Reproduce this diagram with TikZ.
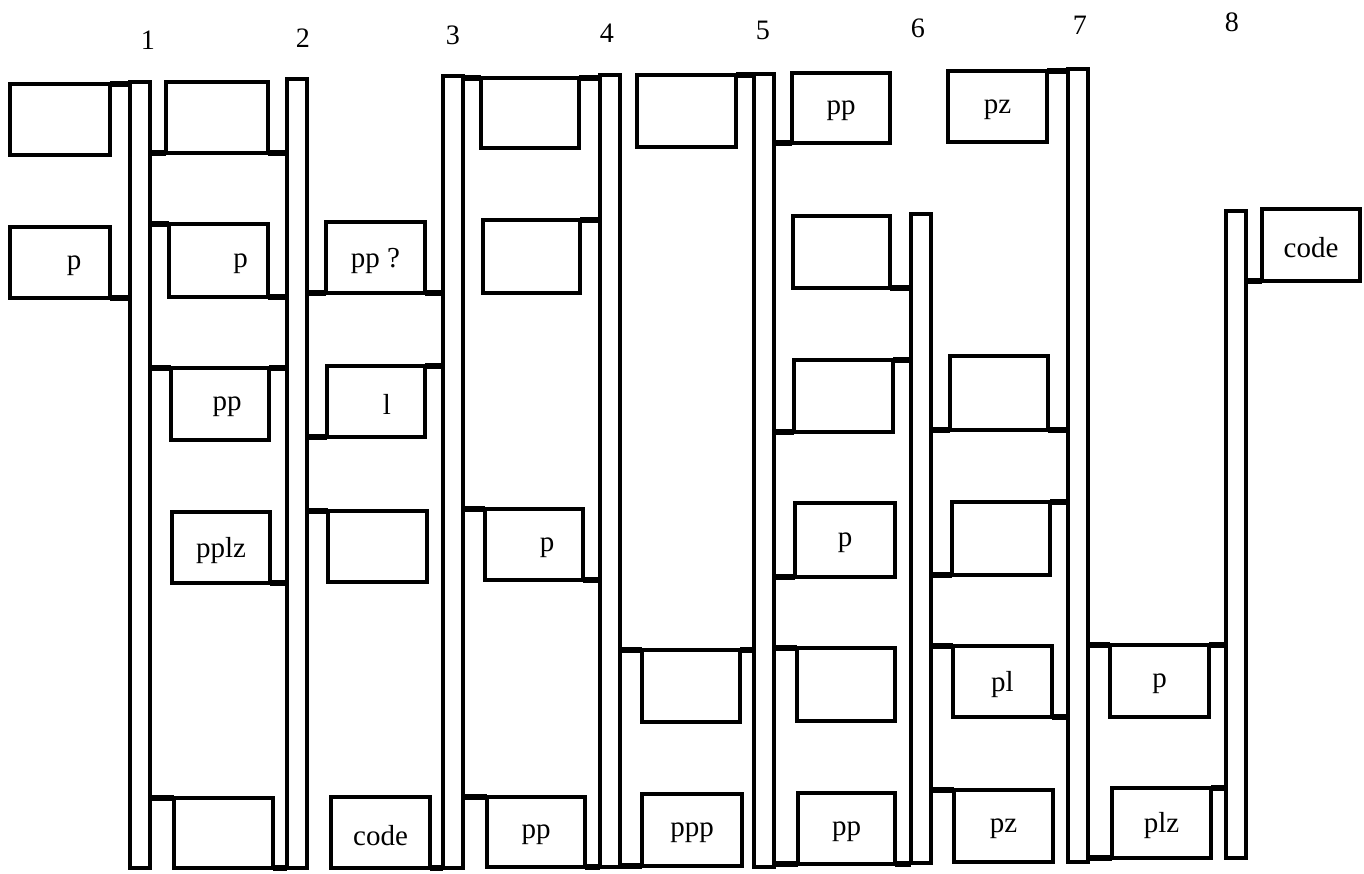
\documentclass[tikz,border=0pt]{standalone}
\usepackage{fontspec}
\setmainfont{Liberation Serif}
\usetikzlibrary{fit}

\begin{document}
\begin{tikzpicture}[x=0.02cm, y=-0.02cm,
  every node/.style={font=\fontsize{16.5}{19}\selectfont},
  bar/.style={draw, line width=1.9pt, inner sep=0pt, outer sep=0pt},
  box/.style={draw, line width=1.9pt, inner sep=0pt, outer sep=0pt},
  link/.style={line width=3.2pt},
  num/.style={font=\fontsize{16}{19}\selectfont}]
\useasboundingbox (0,0) rectangle (1364,874);
% bars
\foreach \n/\xa/\ya/\yb in {1/130/82/868, 2/287/79/868, 3/443/76/868, 4/600/75/867,
    5/754/74/867, 6/911/214/863, 7/1068/69/862, 8/1226/211/858}
  \node[bar, fit={(\xa,\ya) (\xa+20,\yb)}] (bar\n) {};
% numbers over the bars
\foreach \n/\xa/\ya in {1/148/40, 2/303/38, 3/453/35, 4/607/33, 5/763/30, 6/918/28, 7/1080/25, 8/1232/22}
  \node[num] (num\n) at (\xa,\ya) {\n};
% boxes
\foreach \nm/\xa/\ya/\xb/\yb/\txt in {
    A0a/10/84/110/155/{}, A0b/10/227/110/298/{\hspace*{0.56cm}p},
    A1a/166/82/268/153/{}, A1b/169/224/268/297/{\hspace*{0.88cm}p},
    A1c/171/368/269/440/{\hspace*{0.28cm}pp}, A1d/172/512/270/583/{pplz},
    A1e/174/798/273/868/{},
    A2a/326/222/425/293/{pp ?}, A2b/327/366/425/437/{\hspace*{0.44cm}l},
    A2c/328/511/427/582/{}, A2d/331/797/430/868/{code},
    A3a/481/78/579/148/{}, A3b/483/220/580/293/{},
    A3c/485/509/583/580/{\hspace*{0.52cm}p}, A3d/487/797/585/867/{pp},
    A4a/637/75/736/147/{}, A4b/642/650/740/722/{}, A4c/642/794/742/866/{ppp},
    A5a/792/73/890/143/{pp}, A5b/793/216/890/288/{}, A5c/794/360/893/432/{},
    A5d/795/503/895/577/{p}, A5e/797/648/895/721/{}, A5f/798/793/895/864/{pp},
    A6a/948/71/1047/142/{pz}, A6b/950/356/1048/430/{}, A6c/952/502/1050/575/{},
    A6d/953/646/1052/717/{pl}, A6e/954/790/1053/862/{pz},
    A7a/1110/645/1209/717/{p}, A7b/1112/788/1211/858/{plz},
    A8a/1262/209/1360/281/{code}}
  \node[box, fit={(\xa,\ya) (\xb,\yb)}, label={[yshift=-0.06cm]center:\txt}] (\nm) {};
% links to the bar on the right
\foreach \b/\c/\s in {A0a/north east/bar1, A0b/south east/bar1,
    A1a/south east/bar2, A1b/south east/bar2, A1c/north east/bar2, A1d/south east/bar2, A1e/south east/bar2,
    A2a/south east/bar3, A2b/north east/bar3, A2d/south east/bar3,
    A3a/north east/bar4, A3b/north east/bar4, A3c/south east/bar4, A3d/south east/bar4,
    A4a/north east/bar5, A4b/north east/bar5,
    A5b/south east/bar6, A5c/north east/bar6, A5f/south east/bar6,
    A6a/north east/bar7, A6b/south east/bar7, A6c/north east/bar7, A6d/south east/bar7,
    A7a/north east/bar8, A7b/north east/bar8}
  \draw[link] (\b.\c) -- (\b.\c -| \s.west);
% links to the bar on the left
\foreach \b/\c/\s in {A1a/south west/bar1, A1b/north west/bar1, A1c/north west/bar1, A1e/north west/bar1,
    A2a/south west/bar2, A2b/south west/bar2, A2c/north west/bar2,
    A3a/north west/bar3, A3c/north west/bar3, A3d/north west/bar3,
    A4b/north west/bar4, A4c/south west/bar4,
    A5a/south west/bar5, A5c/south west/bar5, A5d/south west/bar5, A5e/north west/bar5, A5f/south west/bar5,
    A6b/south west/bar6, A6c/south west/bar6, A6d/north west/bar6, A6e/north west/bar6,
    A7a/north west/bar7, A7b/south west/bar7, A8a/south west/bar8}
  \draw[link] (\b.\c) -- (\b.\c -| \s.east);
\end{tikzpicture}
\end{document}
